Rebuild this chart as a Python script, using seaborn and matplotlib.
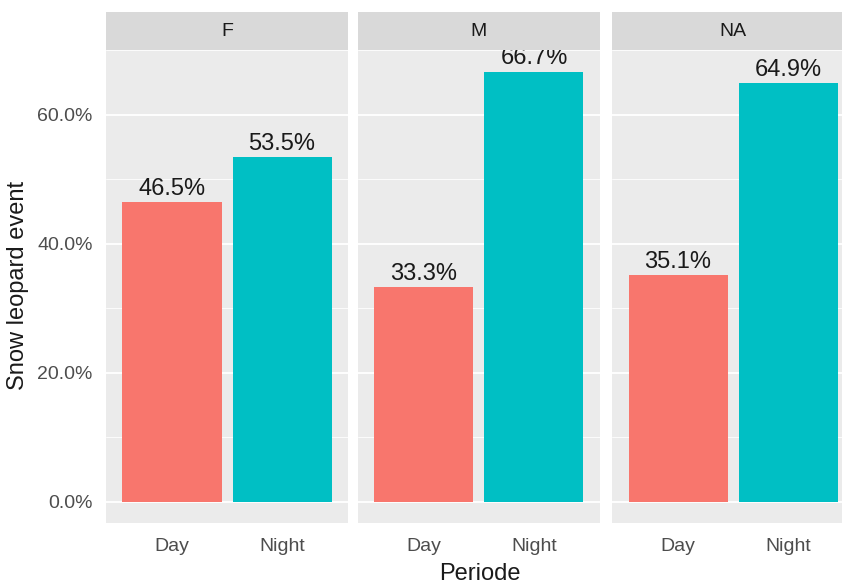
import matplotlib
matplotlib.use("Agg")
import matplotlib.pyplot as plt
import matplotlib.transforms as mtransforms
from matplotlib.ticker import PercentFormatter, MultipleLocator, FixedLocator
import seaborn as sns
import pandas as pd

# Data
sexes = ["F", "M", "NA"]
periods = ["Day", "Night"]
share_day = [0.465, 0.333, 0.351]
share_night = [0.535, 0.667, 0.649]
labels_day = ["46.5%", "33.3%", "35.1%"]
labels_night = ["53.5%", "66.7%", "64.9%"]

colors = {"Day": "#F8766D", "Night": "#00BFC4"}

df = pd.DataFrame({
    "Sex": sexes * 2,
    "Periode": ["Day"] * 3 + ["Night"] * 3,
    "share": share_day + share_night,
    "label": labels_day + labels_night,
})

sns.set_theme(style="white")
plt.rcParams["font.family"] = ["Liberation Sans", "DejaVu Sans"]

W, H = 842, 586
fig = plt.figure(figsize=(W / 100, H / 100), dpi=100)

panel_left = [106, 358, 612]
panel_w = 242
panel_top, panel_bot = 50, 523
strip_top = 12

ymax = max(share_night + share_day)
pad = 0.05 * ymax

for i, sex in enumerate(sexes):
    x0 = panel_left[i] / W
    ax = fig.add_axes([x0, 1 - panel_bot / H, panel_w / W, (panel_bot - panel_top) / H])
    sub = df[df["Sex"] == sex]
    ax.set_facecolor("#EBEBEB")
    ax.yaxis.set_major_locator(FixedLocator([0, 0.2, 0.4, 0.6]))
    ax.yaxis.set_minor_locator(MultipleLocator(0.1))
    ax.grid(True, which="major", color="white", linewidth=1.3)
    ax.grid(True, which="minor", axis="y", color="white", linewidth=0.6)
    ax.set_axisbelow(True)
    sns.barplot(data=sub, x="Periode", y="share", hue="Periode", order=periods,
                hue_order=periods, palette=colors, width=0.9, saturation=1,
                legend=False, ax=ax, errorbar=None)
    for p in ax.patches:
        p.set_edgecolor("none")
    ax.set_xlim(-0.6, 1.6)
    ax.set_ylim(-pad, ymax + pad)
    for s in ax.spines.values():
        s.set_visible(False)
    trans = mtransforms.offset_copy(ax.transData, fig=fig, x=0, y=1.5, units="points")
    for j, per in enumerate(periods):
        row = sub[sub["Periode"] == per].iloc[0]
        ax.text(j, row["share"], row["label"], transform=trans, ha="center",
                va="bottom", fontsize=17, color="#1A1A1A", clip_on=True)
    ax.tick_params(axis="both", which="major", length=4, width=1.0, color="#333333",
                   labelcolor="#4D4D4D", labelsize=14)
    ax.tick_params(axis="x", which="major", pad=7)
    ax.tick_params(axis="y", which="major", pad=5.5)
    ax.tick_params(axis="y", which="minor", length=0)
    ax.yaxis.set_major_formatter(PercentFormatter(xmax=1, decimals=1))
    ax.set_xlabel("")
    ax.set_ylabel("")
    if i > 0:
        ax.tick_params(axis="y", which="major", labelleft=False, length=0)

    # facet strip
    sax = fig.add_axes([x0, 1 - panel_top / H, panel_w / W, (panel_top - strip_top) / H])
    sax.set_facecolor("#D9D9D9")
    sax.set_xticks([])
    sax.set_yticks([])
    for s in sax.spines.values():
        s.set_visible(False)
    sax.text(0.5, 0.5, sex, transform=sax.transAxes, ha="center", va="center",
             fontsize=14, color="#1A1A1A")

fig.text(18 / W, 1 - 285 / H, "Snow leopard event", rotation=90,
         ha="center", va="center", fontsize=17, color="#1A1A1A")
fig.text((106 + 612 + panel_w) / 2 / W, 1 - 574 / H, "Periode", ha="center",
         va="center", fontsize=17, color="#1A1A1A")

fig.savefig("out.png", dpi=100)
